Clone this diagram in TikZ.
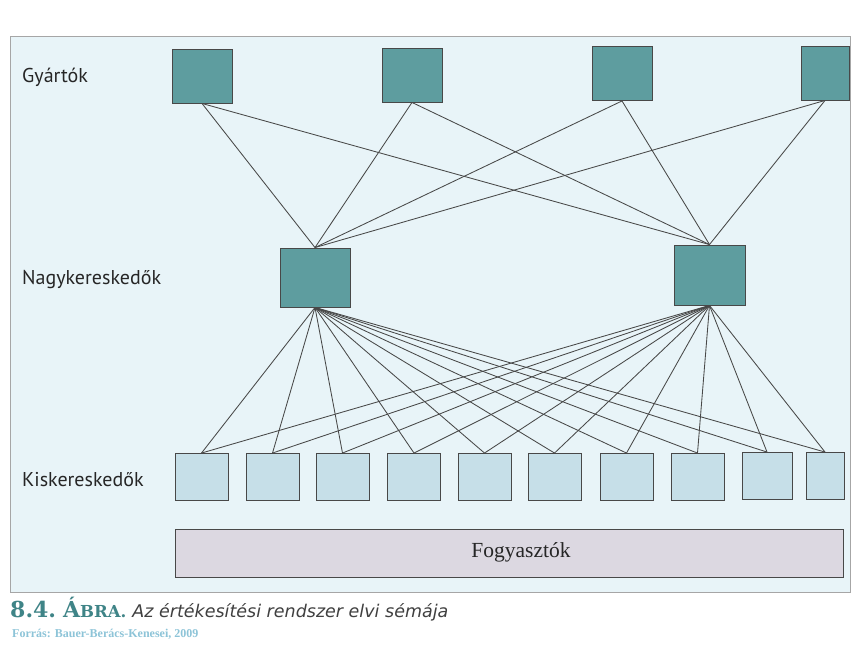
\documentclass[tikz,border=0pt]{standalone}
\usepackage{fontspec}
\setmainfont{Liberation Serif}
\setsansfont{PT Sans}
\newfontfamily\capfont{DejaVu Sans}
\newfontfamily\numfont{DejaVu Serif}
\usetikzlibrary{positioning}

\definecolor{panelbg}{HTML}{E8F4F8}
\definecolor{tealbox}{HTML}{5E9D9F}
\definecolor{lightbox}{HTML}{C6DFE8}
\definecolor{consbar}{HTML}{DCD8E1}
\definecolor{edgegray}{HTML}{484848}
\definecolor{captionteal}{HTML}{3F8487}
\definecolor{sourceblue}{HTML}{8DC4D8}

\tikzset{
  levellabel/.style={anchor=west, font=\sffamily\fontsize{20}{24}\selectfont, text=black!85, inner sep=0},
  gyarto/.style={draw=edgegray, fill=tealbox, line width=0.9pt, minimum width=60, minimum height=54, inner sep=0},
  nagyker/.style={gyarto, minimum width=70, minimum height=59},
  kisker/.style={draw=edgegray, fill=lightbox, line width=0.9pt, minimum width=53, minimum height=47, inner sep=0},
  link/.style={draw=edgegray, line width=0.85pt},
}

\begin{document}
\begin{tikzpicture}[x=1pt, y=-1pt]
	\useasboundingbox (0,0) rectangle (860,647);
	\fill[white] (0,0) rectangle (860,647);
	\draw[fill=panelbg, draw=black!35, line width=0.8pt] (10,36) rectangle (850,592);
	
	% szintek
	\node[levellabel] (lgy) at (22,77) {Gyártók};
	\node[levellabel] (lnk) at (22,280) {Nagykereskedők};
	\node[levellabel] (lkk) at (22,480) {Kiskereskedők};
	
	% gyartok
	\node[gyarto] (gy1) at (202,76) {};
	\node[gyarto] (gy2) at (412,75) {};
	\node[gyarto] (gy3) at (622,73.5) {};
	\node[gyarto, minimum width=48] (gy4) at (825,73) {};
	
	% nagykereskedok
	\node[nagyker] (nk1) at (315,277.5) {};
	\node[nagyker, minimum width=71, minimum height=60] (nk2) at (709.5,275) {};
	
	% kiskereskedok
	\foreach \i/\x in {1/201.5, 2/272.5, 3/342.5, 4/414, 5/484.5, 6/554.5, 7/626.5, 8/697.5}
		\node[kisker] (kk\i) at (\x,477) {};
	\node[kisker, minimum width=50] (kk9) at (767,476) {};
	\node[kisker, minimum width=38] (kk10) at (825,476) {};
	
	% fogyasztok
	\node[draw=edgegray, fill=consbar, line width=0.9pt, minimum width=668, minimum height=48, inner sep=0] (fogy) at (509,553.5) {};
	\node[font=\fontsize{21.5}{25}\selectfont, text=black!85, inner sep=0] (lfogy) at (521,552) {Fogyasztók};
	
	% kapcsolatok
	\foreach \g in {1,...,4}
		\foreach \n in {1,2}
			\draw[link] (gy\g.south) -- (nk\n.north);
	\foreach \n in {1,2}
		\foreach \k in {1,...,10}
			\draw[link] (nk\n.south) -- (kk\k.north);
	
	% felirat
	\node[anchor=base west, inner sep=0] (cap) at (10,617)
		{\textcolor{captionteal}{\numfont\bfseries\fontsize{22}{26}\selectfont 8.4.\hspace{7pt}\'A\fontsize{16.5}{20}\selectfont BRA.}\hspace{6pt}%
		 {\capfont\itshape\fontsize{17.5}{21}\selectfont\color{black!75}Az értékesítési rendszer elvi sémája}};
	\node[anchor=base west, inner sep=0, font=\bfseries\fontsize{12}{14}\selectfont, text=sourceblue]
		(src) at (12,637) {Forrás: Bauer-Berács-Kenesei, 2009};
\end{tikzpicture}
\end{document}
